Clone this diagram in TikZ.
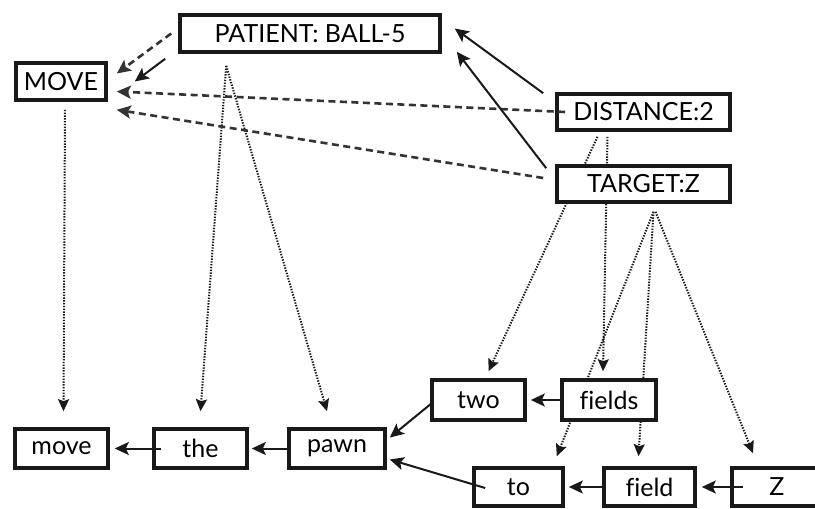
\documentclass[tikz,border=0pt]{standalone}
\usepackage{fontspec}
\setmainfont{Lato}[Ligatures=NoCommon]
\usetikzlibrary{arrows.meta,backgrounds}
\begin{document}
\begin{tikzpicture}[x=1pt,y=-1pt,
  box/.style={draw=black!90, line width=3.6pt, fill=white, inner sep=0pt,
    font=\fontsize{25}{25}\selectfont},
  sol/.style={line width=2pt, draw=black!90, -{Stealth[length=14pt,width=13pt,inset=3pt]}},
  dsh/.style={line width=2.6pt, draw=black!80, dash pattern=on 7pt off 4.5pt, -{Stealth[length=14pt,width=13pt,inset=3pt]}},
  dot/.style={line width=2pt, draw=black!90, dash pattern=on 1.4pt off 1.4pt, -{Stealth[length=12pt,width=11pt,inset=2pt]}}]
\clip (0,0) rectangle (815,509);
% nodes
\node[box, minimum width=260pt, minimum height=37pt] (PATIENT) at (310,33.5) {PATIENT: BALL-5};
\node[box, minimum width=90pt, minimum height=37pt] (MOVE) at (61,81.5) {MOVE};
\node[box, minimum width=173pt, minimum height=36pt] (DIST) at (643.5,112) {DISTANCE:2};
\node[box, minimum width=173pt, minimum height=36pt] (TARGET) at (643.5,184) {TARGET:Z};
\node[box, minimum width=93pt, minimum height=40pt] (two) at (478.5,400) {two};
\node[box, minimum width=94pt, minimum height=40pt] (fields) at (609,400) {fields};
\node[box, minimum width=89pt, minimum height=38pt] (to) at (518.5,487) {to};
\node[box, minimum width=91pt, minimum height=38pt] (field) at (649.5,487) {field};
\node[box, minimum width=90pt, minimum height=38pt] (Z) at (777,487) {Z};
\node[box, minimum width=93pt, minimum height=39pt] (move) at (61.5,448.5) {move};
\node[box, minimum width=93pt, minimum height=39pt] (the) at (200.5,448.5) {the};
\node[box, minimum width=96pt, minimum height=39pt] (pawn) at (337,448.5) {pawn};
% dotted connectors behind boxes
\begin{pgfonlayer}{background}
\draw[dot] ([xshift=4pt,yshift=-8pt]MOVE.south) -- ([xshift=2pt,yshift=16pt]move.north);
\draw[dot] ([xshift=48pt,yshift=-12pt]PATIENT.south west) -- ([yshift=16pt]the.north);
\draw[dot] ([xshift=48pt,yshift=-12pt]PATIENT.south west) -- ([xshift=-10pt,yshift=16pt]pawn.north);
\draw[dot] ([xshift=-46pt,yshift=-5pt]DIST.south) -- ([xshift=10pt,yshift=7pt]two.north);
\draw[dot] ([xshift=-36pt,yshift=-5pt]DIST.south) -- ([xshift=-6pt,yshift=7pt]fields.north);
\draw[dot] ([xshift=10pt,yshift=-8pt]TARGET.south) -- ([xshift=-8pt,yshift=10pt]to.north east);
\draw[dot] ([xshift=10pt,yshift=-8pt]TARGET.south) -- ([xshift=-11pt,yshift=10pt]field.north);
\draw[dot] ([xshift=12pt,yshift=-8pt]TARGET.south) -- ([xshift=-24pt,yshift=13pt]Z.north);
\end{pgfonlayer}
% top connectors
\draw[sol] ([xshift=-13pt,yshift=-5pt]PATIENT.south west) -- ([xshift=27pt,yshift=0pt]MOVE.east);
\draw[dsh] ([xshift=-7pt]PATIENT.west) -- ([xshift=9pt,yshift=8pt]MOVE.east);
\draw[dsh] ([xshift=10pt]DIST.west) -- ([xshift=9pt,yshift=-10pt]MOVE.east);
\draw[dsh] ([xshift=-12pt,yshift=6pt]TARGET.west) -- ([xshift=9pt,yshift=-8pt]MOVE.south east);
\draw[sol] ([xshift=-12pt,yshift=-1pt]DIST.north west) -- ([xshift=13pt,yshift=5pt]PATIENT.east);
\draw[sol] ([xshift=-9pt,yshift=-4pt]TARGET.north west) -- ([xshift=15pt,yshift=2pt]PATIENT.south east);
% bottom connectors
\draw[sol] ([xshift=3pt,yshift=-2pt]two.west) -- ([xshift=3pt,yshift=11pt]pawn.east);
\draw[sol] ([xshift=13pt,yshift=-1pt]to.west) -- ([xshift=3pt,yshift=-11pt]pawn.east);
\draw[sol] ([xshift=3pt]fields.west) -- ([xshift=4pt]two.east);
\draw[sol] ([xshift=3pt]field.west) -- ([xshift=4pt]to.east);
\draw[sol] ([xshift=13pt]Z.west) -- ([xshift=5pt]field.east);
\draw[sol] ([xshift=1pt]pawn.west) -- ([xshift=3pt]the.east);
\draw[sol] ([xshift=9pt]the.west) -- ([xshift=5pt]move.east);
\end{tikzpicture}
\end{document}
